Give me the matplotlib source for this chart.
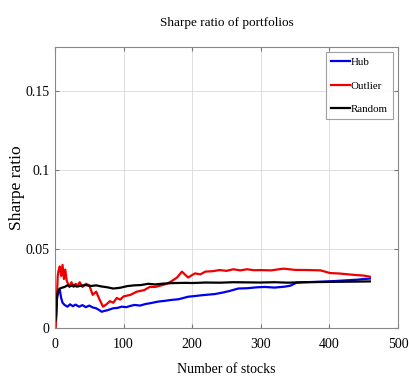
import matplotlib
matplotlib.use("Agg")
import matplotlib.pyplot as plt

# ---- data ----
hub_n = [1, 2, 3, 5, 7, 9, 11, 14, 18, 22, 26, 30, 35, 40, 45, 50, 55, 60, 65, 68, 72, 76, 80, 85, 91,
         97, 104, 110, 116, 124, 132, 140, 150, 160, 170, 180, 194, 205, 215, 233, 245, 255, 267, 280,
         295, 306, 320, 335, 343, 352, 365, 380, 396, 410, 425, 440, 450, 459]
hub_v = [0.003, 0.012, 0.020, 0.023, 0.024, 0.019, 0.016, 0.0146, 0.0135, 0.015, 0.0138, 0.0148, 0.0135,
         0.0145, 0.0132, 0.0142, 0.013, 0.0125, 0.0112, 0.0103, 0.0108, 0.0112, 0.0118, 0.0125, 0.0127,
         0.0135, 0.0132, 0.014, 0.0146, 0.0142, 0.0152, 0.0158, 0.0167, 0.0172, 0.0178, 0.0182, 0.0198,
         0.0203, 0.0208, 0.0215, 0.0225, 0.0235, 0.025, 0.0252, 0.0258, 0.026, 0.0256, 0.0262, 0.0268,
         0.0287, 0.029, 0.0292, 0.0295, 0.0298, 0.0302, 0.0306, 0.031, 0.0313]

out_n = [1, 2, 3, 4, 5, 7, 9, 11, 13, 15, 17, 19, 21, 24, 27, 30, 33, 36, 40, 45, 50, 55, 60, 65, 70,
         75, 80, 85, 90, 95, 100, 110, 119, 130, 138, 146, 155, 163, 170, 178, 185, 194, 204, 212, 219,
         230, 240, 250, 260, 270, 280, 290, 300, 315, 333, 350, 370, 387, 401, 415, 427, 440, 450, 459]
out_v = [0.0, 0.008, 0.022, 0.033, 0.036, 0.039, 0.033, 0.040, 0.031, 0.037, 0.030, 0.028, 0.026, 0.029,
         0.026, 0.028, 0.027, 0.029, 0.026, 0.028, 0.027, 0.021, 0.023, 0.018, 0.0135, 0.015, 0.017,
         0.016, 0.019, 0.018, 0.020, 0.021, 0.023, 0.024, 0.026, 0.026, 0.027, 0.028, 0.0297, 0.032,
         0.0357, 0.032, 0.0346, 0.034, 0.0357, 0.036, 0.0367, 0.0362, 0.0372, 0.0365, 0.0372, 0.0366,
         0.0367, 0.0365, 0.0376, 0.0368, 0.0367, 0.0365, 0.0348, 0.0345, 0.034, 0.0335, 0.0332, 0.0325]

rnd_n = [1, 2, 3, 4, 5, 7, 10, 14, 18, 22, 27, 32, 38, 45, 52, 60, 68, 76, 85, 95, 105, 115, 125, 136,
         146, 160, 175, 190, 200, 220, 240, 260, 280, 300, 320, 340, 360, 380, 400, 420, 440, 459]
rnd_v = [0.005, 0.012, 0.019, 0.023, 0.024, 0.025, 0.0255, 0.026, 0.027, 0.0265, 0.027, 0.0262,
         0.0268, 0.0272, 0.0266, 0.027, 0.0263, 0.0258, 0.025, 0.0255, 0.0265, 0.027, 0.0272, 0.028,
         0.0276, 0.0282, 0.0285, 0.0286, 0.0285, 0.0288, 0.0287, 0.029, 0.0289, 0.0288, 0.029, 0.0287,
         0.029, 0.0291, 0.0292, 0.0293, 0.0294, 0.0295]

series_labels = ["Hub", "Outlier", "Random"]
x_ticks = [0, 100, 200, 300, 400, 500]
y_ticks = [0, 0.05, 0.1, 0.15]
y_tick_labels = ["0", "0.05", "0.1", "0.15"]

plt.rcParams["font.family"] = ["Liberation Serif", "DejaVu Serif"]

fig = plt.figure(figsize=(4.1, 3.88), dpi=100)
ax = fig.add_axes([55 / 410, 60 / 388, 343 / 410, 281 / 388])

ax.plot(hub_n, hub_v, color="#0000ee", lw=1.6, label=series_labels[0])
ax.plot(out_n, out_v, color="#ee0000", lw=1.6, label=series_labels[1])
ax.plot(rnd_n, rnd_v, color="black", lw=1.6, label=series_labels[2])

ax.set_xlim(0, 500)
ax.set_ylim(0, 0.178)
ax.set_xticks(x_ticks)
ax.set_yticks(y_ticks)
ax.set_yticklabels(y_tick_labels)
ax.tick_params(direction="in", top=True, right=True, labelsize=10, length=3,
               color="#777777")
ax.tick_params(axis="y", pad=4)
ax.tick_params(axis="x", pad=7)
ax.grid(True, color="#dddddd", lw=0.7)
for s in ax.spines.values():
    s.set_color("#888888")
    s.set_linewidth(0.8)

ax.set_title("Sharpe ratio of portfolios", fontsize=9.5, pad=15)
ax.set_xlabel("Number of stocks", fontsize=10, labelpad=9)
ax.set_ylabel("Sharpe ratio", fontsize=12.5)
ax.yaxis.set_label_coords(-0.088, 0.5)

leg = ax.legend(loc="upper right", fontsize=7.8, fancybox=False, edgecolor="#888888",
                handlelength=1.8, handletextpad=0.05, labelspacing=1.3, borderpad=0.45,
                borderaxespad=0.5)
leg.get_frame().set_linewidth(0.8)

fig.savefig("out.png", dpi=100)
